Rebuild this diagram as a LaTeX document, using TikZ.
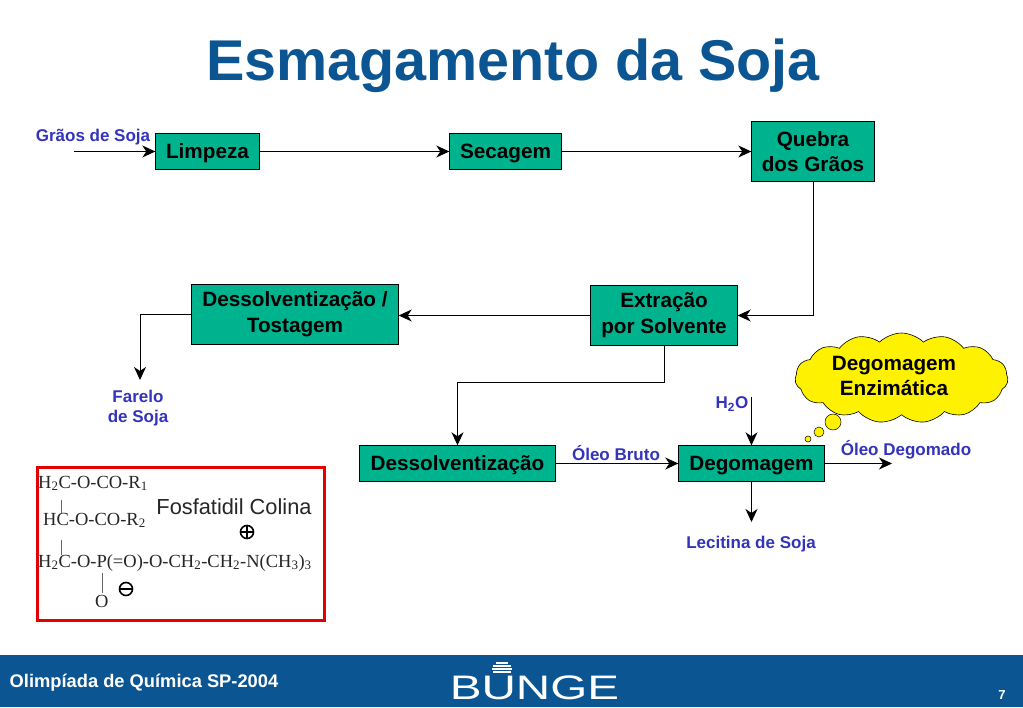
\documentclass[tikz,border=0pt]{standalone}
\usepackage{fontspec}
\setmainfont{Liberation Sans}
\newfontfamily\chemfont{Liberation Serif}
\usetikzlibrary{positioning}
\usetikzlibrary{arrows.meta}
\usetikzlibrary{shapes.symbols}
\definecolor{bungeblue}{HTML}{0B5592}
\definecolor{boxgreen}{HTML}{00B38F}
\definecolor{labelblue}{HTML}{3333BB}
\newcommand{\fsize}[1]{\fontsize{#1}{#1}\selectfont}
\tikzset{
	stepbox/.style={rectangle, draw=black, fill=boxgreen, inner sep=0pt, align=center, font=\fsize{20.7}\bfseries},
	flow/.style={->, draw=black, line width=0.9pt},
	lbl/.style={text=labelblue, inner sep=0pt, align=center, font=\fsize{17}\bfseries},
	chem/.style={anchor=base west, inner sep=0pt, text=black!85, font=\fsize{18.5}\chemfont},
	bubble/.style={circle, draw=black, fill=yellow, inner sep=0pt, line width=0.5pt}
}
\begin{document}
\begin{tikzpicture}[>={Stealth[length=13pt, width=12pt, inset=4pt]}, x=1pt, y=-1pt]
	\useasboundingbox (0,0) rectangle (1023,708);
	%title
	\node (title) at (513,66) [text=bungeblue, inner sep=0pt, font=\fsize{57.5}\bfseries] {Esmagamento da Soja};
	%boxes
	\node (limpeza) at (207.5,151.5) [stepbox, text depth=0pt, minimum width=104pt, minimum height=36pt] {Limpeza};
	\node (secagem) at (505.5,151.5) [stepbox, text depth=0pt, minimum width=112pt, minimum height=36pt] {Secagem};
	\node (quebra) at (813,151.5) [stepbox, minimum width=123pt, minimum height=60pt] {Quebra\\[5pt]dos Grãos};
	\node (tostagem) at (295,314.5) [stepbox, minimum width=207pt, minimum height=60pt] {Dessolventização /\\[5pt]Tostagem};
	\node (extracao) at (664,315.5) [stepbox, minimum width=147pt, minimum height=60pt] {Extração\\[5pt]por Solvente};
	\node (dessolv) at (457.5,463.5) [stepbox, text depth=0pt, minimum width=196pt, minimum height=36pt] {Dessolventização};
	\node (degom) at (751.5,463.5) [stepbox, text depth=0pt, minimum width=146pt, minimum height=36pt] {Degomagem};
	%free ends
	\coordinate (graosin) at (74,151.5);
	\coordinate (fareloend) at (140,380);
	\coordinate (aguain) at (751.5,397);
	\coordinate (lecitinaend) at (751.5,522);
	\coordinate (oleoend) at (892,463.5);
	%labels
	\node (graos) at (93,137.5) [lbl] {Grãos de Soja};
	\node (farelo) at (138,408) [lbl] {Farelo\\[3pt]de Soja};
	\node (agua) at (732,404) [lbl] {H\textsubscript{2}O};
	\node (bruto) at (616,453) [lbl] {Óleo Bruto};
	\node (degomado) at (906,450) [lbl] {Óleo Degomado};
	\node (lecitina) at (751,544) [lbl] {Lecitina de Soja};
	%connectors
	\draw [flow] (graosin) -- (limpeza);
	\draw [flow] (limpeza) -- (secagem);
	\draw [flow] (secagem) -- (quebra);
	\draw [flow] (quebra.south) |- (extracao.east);
	\draw [flow] (extracao.west) -- (extracao.west -| tostagem.east);
	\draw [flow] (tostagem.west) -| (fareloend);
	\draw [flow] (extracao.south) -- ++(0,37) -| (dessolv.north);
	\draw [flow] (dessolv) -- (degom);
	\draw [flow] (aguain) -- (degom.north);
	\draw [flow] (degom.south) -- (lecitinaend);
	\draw [flow] (degom.east) -- (oleoend);
	%cloud
	\node (nuvem) at (901.5,378) [cloud, cloud puffs=15, cloud puff arc=90, aspect=2.4, draw=black, fill=yellow, inner sep=0pt, minimum width=213pt, minimum height=90pt, line width=0.6pt] {};
	\node (nuvemtxt) at (894,376) [inner sep=0pt, align=center, font=\fsize{20.7}\bfseries] {Degomagem\\[5pt]Enzimática};
	\node (bolha1) at (833,422) [bubble, minimum size=16pt] {};
	\node (bolha2) at (819,432) [bubble, minimum size=10pt] {};
	\node (bolha3) at (808,439) [bubble, minimum size=6pt] {};
	%formula box
	\node (formula) at (181,544) [rectangle, draw=red!90!black, line width=3pt, minimum width=287pt, minimum height=153pt, inner sep=0pt] {};
	\node (linha1) at (38,488) [chem] {H\textsubscript{2}C-O-CO-R\textsubscript{1}};
	\node (linha2) at (43,525) [chem] {HC-O-CO-R\textsubscript{2}};
	\node (linha3) at (38,567) [chem] {H\textsubscript{2}C-O-P(=O)-O-CH\textsubscript{2}-CH\textsubscript{2}-N(CH\textsubscript{3})\textsubscript{3}};
	\node (linha4) at (95,607) [chem] {O};
	\node (colina) at (234,507) [inner sep=0pt, text=black!85, font=\fsize{21.8}] {Fosfatidil Colina};
	\coordinate (traco1) at (61,500);
	\coordinate (traco2) at (61,540);
	\coordinate (traco3) at (102,573);
	\draw [black!60] (traco1) -- ++(0,13);
	\draw [black!60] (traco2) -- ++(0,15);
	\draw [black!60] (traco3) -- ++(0,20);
	%charges
	\node (mais) at (247,532) [circle, draw=black, line width=1.6pt, minimum size=13pt, inner sep=0pt] {};
	\draw [line width=1.4pt] (mais.west) -- (mais.east) (mais.north) -- (mais.south);
	\node (menos) at (126,589) [circle, draw=black, line width=1.6pt, minimum size=13pt, inner sep=0pt] {};
	\draw [line width=1.4pt] (menos.west) -- (menos.east);
	%footer
	\fill [bungeblue] (0,655) rectangle (1023,707);
	\node (evento) at (144,683) [inner sep=0pt, text=white, font=\fsize{18.3}\bfseries] {Olimpíada de Química SP-2004};
	\node (pagina) at (1002,695) [inner sep=0pt, text=white, font=\fsize{13}\bfseries] {7};
	\node (bunge) at (534.5,688) [inner sep=0pt, xscale=1.4, text=white, font=\fsize{34}] {BUNGE};
	\foreach \yy/\ww in {662/6, 665/9, 668/10, 671/9} {
		\fill [white] (502-\ww,\yy) rectangle (502+\ww,\yy+1.8);
	}
\end{tikzpicture}
\end{document}
